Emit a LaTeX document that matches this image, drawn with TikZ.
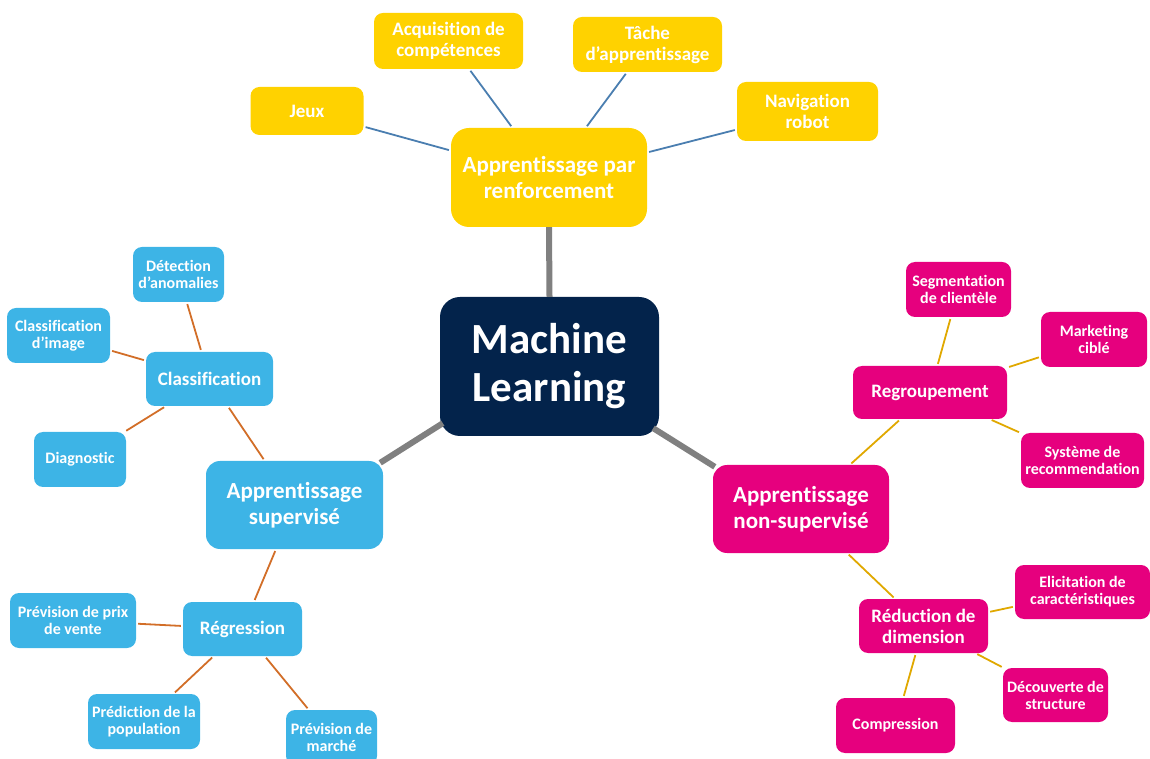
\documentclass[tikz,border=0pt]{standalone}
\usepackage{fontspec}
\setmainfont{Carlito}[Ligatures={NoCommon}]
\usetikzlibrary{calc}
\definecolor{cyel}{RGB}{255,210,0}
\definecolor{cnavy}{RGB}{3,35,75}
\definecolor{cblue}{RGB}{61,180,230}
\definecolor{cmag}{RGB}{230,0,126}
\definecolor{lblue}{RGB}{74,126,176}
\definecolor{lorange}{RGB}{210,110,40}
\definecolor{lgold}{RGB}{224,168,0}
\definecolor{lgray}{RGB}{128,128,128}
\tikzset{
  bx/.style={rounded corners=9pt, inner sep=0pt, align=center, text=white},
  fsm/.style={font=\bfseries\fontsize{16}{17}\selectfont},
  fyl/.style={font=\bfseries\fontsize{19}{21}\selectfont},
  fmd/.style={font=\bfseries\fontsize{19}{21}\selectfont},
  flg/.style={font=\bfseries\fontsize{23}{26}\selectfont},
  yel/.style={bx, fill=cyel},
  blu/.style={bx, fill=cblue},
  mag/.style={bx, fill=cmag},
  mainline/.style={draw=lgray, line width=6pt},
  bline/.style={draw=lblue, line width=1.8pt, shorten <=2pt, shorten >=2pt},
  oline/.style={draw=lorange, line width=1.8pt, shorten <=2pt, shorten >=2pt},
  gline/.style={draw=lgold, line width=1.8pt, shorten <=2pt, shorten >=2pt},
}
\begin{document}
\begin{tikzpicture}[x=1pt,y=1pt]
\useasboundingbox (0,0) rectangle (1150,758);
% centre
\node[bx, fill=cnavy, rounded corners=20pt, minimum width=219pt, minimum height=139pt,
  font=\bfseries\fontsize{43}{48}\selectfont] (ml) at (549.5,391.5) {Machine\\Learning};
% reinforcement
\node[yel, flg, rounded corners=18pt, minimum width=196pt, minimum height=99pt] (renf) at (549,580.5) {Apprentissage par\\renforcement};
\node[yel, fyl, minimum width=113pt, minimum height=48pt] (jeux) at (307,647) {Jeux};
\node[yel, fyl, minimum width=149pt, minimum height=56pt] (acq) at (448.5,717) {Acquisition de\\compétences};
\node[yel, fyl, minimum width=149pt, minimum height=55pt] (tache) at (647.5,713.5) {Tâche\\d’apprentissage};
\node[yel, fyl, minimum width=141pt, minimum height=59pt] (nav) at (807.5,646.5) {Navigation\\robot};
% supervised
\node[blu, flg, rounded corners=14pt, minimum width=177pt, minimum height=88pt] (sup) at (294.5,253) {Apprentissage\\supervisé};
\node[blu, fmd, minimum width=127pt, minimum height=54pt] (classif) at (209.5,379) {Classification};
\node[blu, fsm, minimum width=91pt, minimum height=55pt] (detect) at (178.5,483.5) {Détection\\d’anomalies};
\node[blu, fsm, minimum width=103pt, minimum height=55pt] (climg) at (58.5,422.5) {Classification\\d’image};
\node[blu, fsm, minimum width=92pt, minimum height=55pt] (diag) at (80,298.5) {Diagnostic};
\node[blu, fmd, minimum width=119pt, minimum height=54pt] (regr) at (242.5,129) {Régression};
\node[blu, fsm, minimum width=126pt, minimum height=55pt] (prix) at (73,137.5) {Prévision de prix\\de vente};
\node[blu, fsm, minimum width=112pt, minimum height=55pt] (pop) at (144,36.5) {Prédiction de la\\population};
\node[blu, fsm, minimum width=91pt, minimum height=55pt] (marche) at (331.5,20.5) {Prévision de\\marché};
% unsupervised
\node[mag, flg, rounded corners=14pt, minimum width=176pt, minimum height=88pt] (nonsup) at (801,249) {Apprentissage\\non-supervisé};
\node[mag, fmd, minimum width=154pt, minimum height=53pt] (regroup) at (930,365.5) {Regroupement};
\node[mag, fsm, minimum width=105pt, minimum height=55pt] (seg) at (958.5,468.5) {Segmentation\\de clientèle};
\node[mag, fsm, minimum width=106pt, minimum height=55pt] (mkt) at (1094,418.5) {Marketing\\ciblé};
\node[mag, fsm, minimum width=123pt, minimum height=55pt] (sys) at (1082.5,297.5) {Système de\\recommendation};
\node[mag, fmd, minimum width=129pt, minimum height=54pt] (reduc) at (923.5,132) {Réduction de\\dimension};
\node[mag, fsm, minimum width=135pt, minimum height=54pt] (elic) at (1082.5,166) {Elicitation de\\caractéristiques};
\node[mag, fsm, minimum width=105pt, minimum height=54pt] (decouv) at (1055.5,63) {Découverte de\\structure};
\node[mag, fsm, minimum width=119pt, minimum height=55pt] (comp) at (895.5,32.5) {Compression};
% main connectors
\draw[mainline] (renf.south) -- (ml.north);
\draw[mainline] ($(ml.south west)+(3,13)$) -- ($(sup.north east)+(-3,-2)$);
\draw[mainline] ($(ml.south east)+(-6,8)$) -- ($(nonsup.north west)+(2,-2)$);
% reinforcement connectors
\draw[bline] (jeux) -- (renf);
\draw[bline] (acq) -- (renf);
\draw[bline] (tache) -- (renf);
\draw[bline] (nav) -- (renf);
% supervised connectors
\draw[oline] (classif) -- (sup);
\draw[oline] (detect) -- (classif);
\draw[oline] (climg) -- (classif);
\draw[oline] (diag) -- (classif);
\draw[oline] (regr) -- (sup);
\draw[oline] (prix) -- (regr);
\draw[oline] (pop) -- (regr);
\draw[oline] (marche) -- (regr);
% unsupervised connectors
\draw[gline] (regroup) -- (nonsup);
\draw[gline] (seg) -- (regroup);
\draw[gline] (mkt) -- (regroup);
\draw[gline] (sys) -- (regroup);
\draw[gline] (reduc) -- (nonsup);
\draw[gline] (elic) -- (reduc);
\draw[gline] (decouv) -- (reduc);
\draw[gline] (comp) -- (reduc);
\end{tikzpicture}
\end{document}
